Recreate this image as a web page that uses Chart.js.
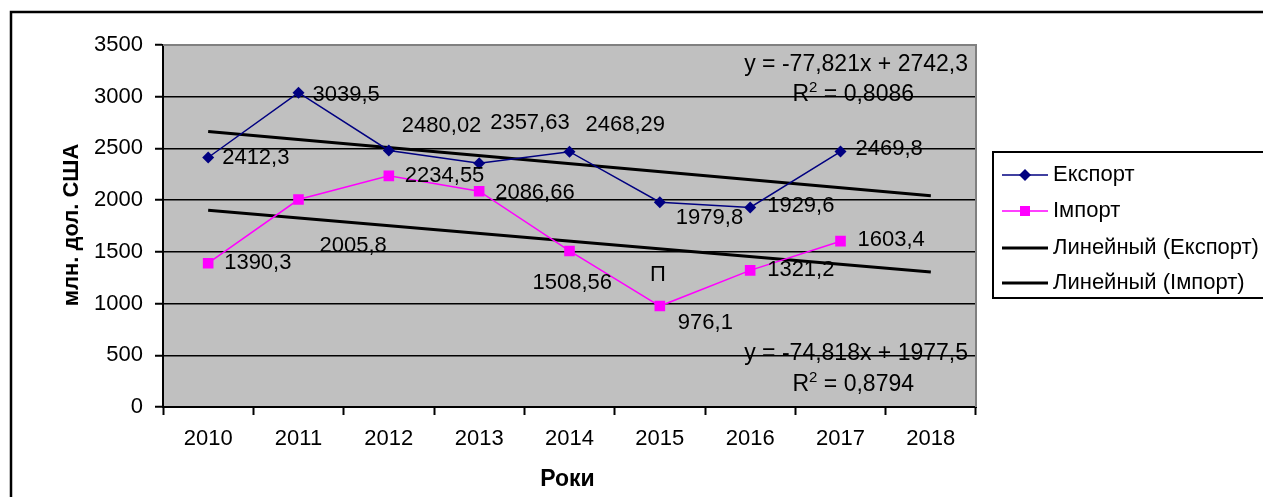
<!DOCTYPE html>
<html>
<head>
<meta charset="utf-8">
<script src="https://cdn.jsdelivr.net/npm/chart.js@4.4.1/dist/chart.umd.min.js"></script>
<style>
  html, body { margin: 0; padding: 0; background: #fff; }
  #wrap { width: 1263px; height: 497px; }
</style>
</head>
<body>
<div id="wrap"><canvas id="chart" width="1263" height="497"></canvas></div>
<script>
// values
const years = ['2010', '2011', '2012', '2013', '2014', '2015', '2016', '2017', '2018'];
const exportValues = [2412.3, 3039.5, 2480.02, 2357.63, 2468.29, 1979.8, 1929.6, 2469.8, null];
const importValues = [1390.3, 2005.8, 2234.55, 2086.66, 1508.56, 976.1, 1321.2, 1603.4, null];
// trend line ends (2010 and 2018)
const exportTrend = [2664.5, null, null, null, null, null, null, null, 2041.9];
const importTrend = [1902.7, null, null, null, null, null, null, null, 1304.1];
const exportEquation = ['y = -77,821x + 2742,3', 'R² = 0,8086'];
const importEquation = ['y = -74,818x + 1977,5', 'R² = 0,8794'];
const seriesNames = ['Експорт', 'Імпорт', 'Линейный (Експорт)', 'Линейный (Імпорт)'];

// where each data label sits next to its point
const exportLabelOffsets = [[14, 0], [14, 2], [13, -25], [11, -40], [16, -27], [16, 16], [17, -1], [15, -3]];
const importLabelOffsets = [[16, 0], [21, 46], [16, 0], [16, 2], [-37, 32], [18, 17], [17, 0], [17, -1]];

const FONT = "'Liberation Sans', Arial, sans-serif";
Chart.defaults.font.family = FONT;
Chart.defaults.color = '#000';

function fmt(v) {
    return String(v).replace('.', ',');
}

// right-aligned text, "²" drawn as a raised small 2
function drawEquation(ctx, text, right, y) {
    const parts = text.split('²');
    if (parts.length === 1) {
        ctx.textAlign = 'right';
        ctx.fillText(text, right, y);
        return;
    }
    const big = '23px ' + FONT, small = '15px ' + FONT;
    ctx.font = big;
    const w1 = ctx.measureText(parts[0]).width;
    const w3 = ctx.measureText(parts[1]).width;
    ctx.font = small;
    const w2 = ctx.measureText('2').width;
    let x = right - w1 - w2 - w3;
    ctx.textAlign = 'left';
    ctx.font = big;
    ctx.fillText(parts[0], x, y);
    x += w1;
    ctx.font = small;
    ctx.fillText('2', x, y - 7);
    x += w2;
    ctx.font = big;
    ctx.fillText(parts[1], x, y);
}

const decorPlugin = {
    id: 'decor',
    beforeDraw(chart) {
        const { ctx, chartArea: a } = chart;
        ctx.save();
        ctx.fillStyle = '#fff';
        ctx.fillRect(0, 0, chart.width, chart.height);
        ctx.fillStyle = '#c0c0c0';
        ctx.fillRect(a.left, a.top, a.right - a.left, a.bottom - a.top);
        ctx.restore();
    },
    afterDatasetsDraw(chart) {
        const { ctx, chartArea: a } = chart;
        ctx.save();

        // grey top/right frame of the plot
        ctx.strokeStyle = '#808080';
        ctx.lineWidth = 2;
        ctx.beginPath();
        ctx.moveTo(a.left, a.top);
        ctx.lineTo(a.right, a.top);
        ctx.lineTo(a.right, a.bottom);
        ctx.stroke();

        // data labels
        ctx.fillStyle = '#000';
        ctx.font = '22px ' + FONT;
        ctx.textAlign = 'left';
        ctx.textBaseline = 'middle';
        [[0, exportValues, exportLabelOffsets], [1, importValues, importLabelOffsets]].forEach(([i, vals, offs]) => {
            const meta = chart.getDatasetMeta(i);
            meta.data.forEach((pt, j) => {
                if (vals[j] == null) return;
                ctx.fillText(fmt(vals[j]), pt.x + offs[j][0], pt.y + offs[j][1]);
            });
        });
        // stray label above the 2015 import point
        const p15 = chart.getDatasetMeta(1).data[5];
        ctx.textAlign = 'center';
        ctx.fillText('П', p15.x - 2, p15.y - 31);

        // trend equations
        ctx.font = '23px ' + FONT;
        drawEquation(ctx, exportEquation[0], a.right - 8, a.top + 20);
        drawEquation(ctx, exportEquation[1], a.right - 62, a.top + 50);
        drawEquation(ctx, importEquation[0], a.right - 8, a.top + 309);
        drawEquation(ctx, importEquation[1], a.right - 62, a.top + 340);

        // axis titles
        ctx.font = 'bold 23px ' + FONT;
        ctx.textAlign = 'center';
        ctx.fillText('Роки', (a.left + a.right) / 2 - 2, 480);
        ctx.save();
        ctx.translate(72, 225);
        ctx.rotate(-Math.PI / 2);
        ctx.font = 'bold 22px ' + FONT;
        ctx.fillText('млн. дол. США', 0, 0);
        ctx.restore();

        // legend
        const lx = 993, ly = 152;
        ctx.strokeStyle = '#000';
        ctx.lineWidth = 2;
        ctx.strokeRect(lx, ly, 320, 146);
        ctx.font = '22px ' + FONT;
        ctx.textAlign = 'left';
        const rows = [175, 211, 248, 283];
        chart.data.datasets.forEach((ds, i) => {
            const y = rows[i];
            ctx.strokeStyle = ds.borderColor;
            ctx.lineWidth = ds.borderWidth;
            ctx.beginPath();
            ctx.moveTo(1002, y);
            ctx.lineTo(1048, y);
            ctx.stroke();
            ctx.fillStyle = ds.borderColor;
            if (ds.pointStyle === 'rectRot') {
                ctx.beginPath();
                ctx.moveTo(1025 - 6, y);
                ctx.lineTo(1025, y - 6);
                ctx.lineTo(1025 + 6, y);
                ctx.lineTo(1025, y + 6);
                ctx.closePath();
                ctx.fill();
            } else if (ds.pointStyle === 'rect') {
                ctx.fillRect(1020, y - 5, 10, 10);
            }
            ctx.fillStyle = '#000';
            ctx.fillText(ds.label, 1053, y);
        });

        // outer chart frame
        ctx.strokeStyle = '#000';
        ctx.lineWidth = 2.5;
        ctx.strokeRect(11, 12, 1300, 520);
        ctx.restore();
    }
};

new Chart(document.getElementById('chart'), {
    type: 'line',
    data: {
        labels: years,
        datasets: [
            {
                label: seriesNames[0],
                data: exportValues,
                borderColor: '#000080',
                backgroundColor: '#000080',
                borderWidth: 1.5,
                pointStyle: 'rectRot',
                pointRadius: 6,
                pointBorderWidth: 0,
                tension: 0
            },
            {
                label: seriesNames[1],
                data: importValues,
                borderColor: '#ff00ff',
                backgroundColor: '#ff00ff',
                borderWidth: 1.5,
                pointStyle: 'rect',
                pointRadius: 7.5,
                pointBorderWidth: 0,
                tension: 0
            },
            {
                label: seriesNames[2],
                data: exportTrend,
                borderColor: '#000',
                borderWidth: 3,
                pointRadius: 0,
                pointStyle: false,
                spanGaps: true
            },
            {
                label: seriesNames[3],
                data: importTrend,
                borderColor: '#000',
                borderWidth: 3,
                pointRadius: 0,
                pointStyle: false,
                spanGaps: true
            }
        ]
    },
    options: {
        responsive: false,
        animation: false,
        layout: { padding: { top: 45, right: 287, bottom: 0, left: 0 } },
        plugins: {
            legend: { display: false },
            tooltip: { enabled: false }
        },
        scales: {
            x: {
                offset: true,
                afterFit(s) { s.height = 90; },
                grid: {
                    offset: true,
                    drawOnChartArea: false,
                    drawTicks: true,
                    tickLength: 8,
                    tickWidth: 2,
                    tickColor: '#000'
                },
                border: { color: '#000', width: 2 },
                ticks: { font: { size: 22 }, color: '#000', padding: 11, maxRotation: 0 }
            },
            y: {
                min: 0,
                max: 3500,
                afterFit(s) { s.width = 163; },
                ticks: {
                    stepSize: 500,
                    font: { size: 22 },
                    color: '#000',
                    padding: 12,
                    callback: v => String(v)
                },
                grid: {
                    color: '#000',
                    lineWidth: 1.5,
                    tickLength: 8,
                    tickWidth: 2,
                    tickColor: '#000'
                },
                border: { color: '#000', width: 2 }
            }
        }
    },
    plugins: [decorPlugin]
});
</script>
</body>
</html>
